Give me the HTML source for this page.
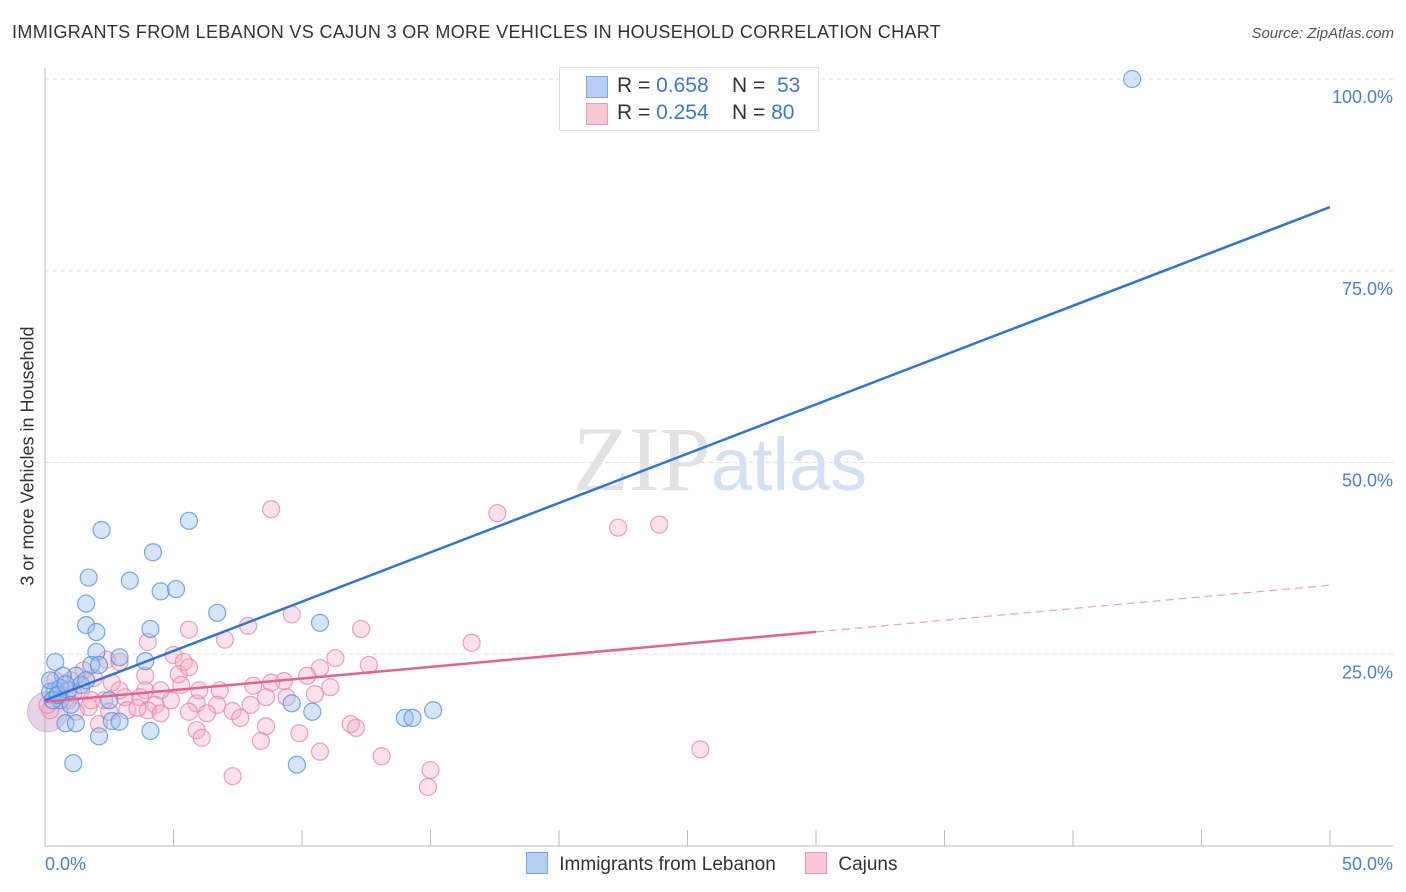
<!DOCTYPE html>
<html><head><meta charset="utf-8"><style>
body{margin:0;background:#fff;font-family:"Liberation Sans",sans-serif;}
#wrap{position:relative;width:1406px;height:892px;overflow:hidden;}
.t{position:absolute;white-space:nowrap;}
</style></head><body>
<div id="wrap">
<div class="t" style="left:12px;top:22px;font-size:18px;color:#333;letter-spacing:0.35px;">IMMIGRANTS FROM LEBANON VS CAJUN 3 OR MORE VEHICLES IN HOUSEHOLD CORRELATION CHART</div>
<div class="t" style="right:12px;top:25px;font-size:15px;color:#555;font-style:italic;">Source: ZipAtlas.com</div>
<div class="t" style="left:28px;top:456px;font-size:18px;color:#333;transform:translate(-50%,-50%) rotate(-90deg);">3 or more Vehicles in Household</div>
<svg id="plot" width="1406" height="892" style="position:absolute;left:0;top:0"></svg>
<div style="position:absolute;left:559px;top:67px;width:258px;height:62px;border:1px solid #ddd;background:#fff;font-size:21px;">
 <div style="position:absolute;left:26px;top:8px;width:20px;height:20px;background:#b5cff5;border:1px solid #7aa6e6;"></div>
 <div class="t" style="left:57px;top:6px;color:#333;">R = <span style="color:#3a78d8">0.658</span>&nbsp;&nbsp;&nbsp; N = &nbsp;<span style="color:#3a78d8">53</span></div>
 <div style="position:absolute;left:26px;top:35px;width:20px;height:20px;background:#f9c6d5;border:1px solid #ee9ab5;"></div>
 <div class="t" style="left:57px;top:33px;color:#333;">R = <span style="color:#3a78d8">0.254</span>&nbsp;&nbsp;&nbsp; N = <span style="color:#3a78d8">80</span></div>
</div>
<div style="position:absolute;left:526px;top:852px;font-size:19px;color:#333;">
 <span style="display:inline-block;width:20px;height:20px;background:#b5cff5;border:1px solid #7aa6e6;vertical-align:-4px;"></span>
 <span style="margin-left:6px">Immigrants from Lebanon</span>
 <span style="display:inline-block;width:20px;height:20px;background:#f9c6d5;border:1px solid #ee9ab5;vertical-align:-4px;margin-left:24px;"></span>
 <span style="margin-left:6px">Cajuns</span>
</div>
</div>
<script>
const blueX=[42.3,2.2,5.6,4.2,1.7,3.3,1.6,4.5,5.1,6.7,1.6,2.0,4.1,10.7,2.0,2.9,3.9,0.4,1.8,1.2,0.7,1.4,1.6,0.4,0.2,0.9,0.6,9.6,10.4,0.8,1.2,2.6,2.9,4.1,2.1,1.1,9.8,14.0,14.3,15.1,0.6,0.2,1.0,2.1,2.5,0.3,0.5,0.8];
const blueY=[100,41.2,42.4,38.3,35.0,34.6,31.6,33.2,33.5,30.4,28.8,27.9,28.3,29.1,25.3,24.6,24.1,24.0,23.6,22.2,22.2,21.0,21.6,20.3,20.1,20.3,19.0,18.6,17.5,16.0,16.0,16.3,16.2,15.0,14.3,10.8,10.6,16.7,16.7,17.7,20.6,21.6,18.4,23.6,19.0,19.0,19.7,21.1];
const pinkX=[8.8,17.6,22.3,23.9,9.6,12.3,16.6,5.6,7.0,4.0,7.9,5.0,5.4,5.2,3.9,5.6,11.3,12.6,10.7,10.2,9.3,8.8,8.1,11.1,6.8,9.4,10.5,3.9,3.7,3.1,2.6,2.4,2.9,1.9,1.5,8.6,8.0,6.7,5.9,4.3,3.2,4.0,7.3,6.3,5.6,4.5,3.6,1.7,1.2,7.6,8.6,11.9,12.1,5.9,6.1,9.9,8.4,2.1,10.7,13.1,7.3,15.0,14.9,25.5,0.9,1.4,0.6,0.2,0.4,1.0,2.3,2.5,4.9,4.5,5.3,1.1,1.8,0.1,2.9,6.0];
const pinkY=[43.9,43.4,41.5,41.9,30.2,28.3,26.5,28.2,26.9,26.6,28.7,24.9,24.0,22.4,22.2,23.3,24.5,23.6,23.2,22.2,21.5,21.3,20.9,20.7,20.3,19.4,19.8,20.3,19.4,19.4,21.3,24.3,24.0,21.9,22.9,19.4,18.4,18.4,18.6,18.4,17.7,17.7,17.6,17.3,17.5,17.3,18.0,18.1,17.5,16.7,15.6,15.9,15.4,15.1,14.1,14.7,13.7,15.9,12.3,11.7,9.1,9.9,7.7,12.6,19.0,20.3,19.7,17.7,21.6,21.6,19.0,17.5,19.0,20.3,21.0,19.9,19.0,18.4,20.3,20.3];
const blueTrend=[19.0,83.3];
const pinkTrend=[18.8,34.0];
const pinkSolidEnd=30;
const yTicks=[25,50,75,100];
const yTickLabels=["25.0%","50.0%","75.0%","100.0%"];
const xTicks=[0,5,10,15,20,25,30,35,40,45,50];
const NS="http://www.w3.org/2000/svg";
const svg=document.getElementById('plot');
const X=v=>45+v/50*1285;
const Y=v=>846-v*7.67;
function el(tag,attrs){const e=document.createElementNS(NS,tag);for(const k in attrs)e.setAttribute(k,attrs[k]);svg.appendChild(e);return e;}
yTicks.forEach((t,i)=>{
 const g=el('line',{x1:45,x2:1393,y1:Y(t),y2:Y(t),stroke:'#ddd','stroke-dasharray':'4,4'});
 
 
 const tx=el('text',{x:1393,y:Y(t)+24,'text-anchor':'end','font-size':18,fill:'#4a7fd4','font-family':'Liberation Sans'});
 tx.textContent=yTickLabels[i];
 
 
});
const ax=el('line',{x1:45,x2:45,y1:68,y2:846,stroke:'#bbb'});


const bx=el('line',{x1:45,x2:1393,y1:846,y2:846,stroke:'#bbb'});


xTicks.forEach(t=>{
 const l=el('line',{x1:X(t),x2:X(t),y1:830,y2:846,stroke:'#bbb'});
 
 
});
[[0,'start',45,'0.0%'],[50,'end',1393,'50.0%']].forEach(a=>{
 const tx=el('text',{x:a[2],y:870,'text-anchor':a[1],'font-size':18,fill:'#4a7fd4','font-family':'Liberation Sans'});
 tx.textContent=a[3];
 
 
});
const wm=el('text',{x:720,y:490,'text-anchor':'middle','font-size':92,'font-family':'Liberation Serif',fill:'#e2e2e2'});
wm.innerHTML='ZIP<tspan font-family="Liberation Sans" fill="#d3e1f5" font-size="74">atlas</tspan>';


const big=el('circle',{cx:X(0.1),cy:Y(17.5),r:20,fill:'rgba(200,160,200,0.45)',stroke:'rgba(200,140,180,0.6)'});


pinkX.forEach((x,i)=>{
 const c=el('circle',{cx:X(x),cy:Y(pinkY[i]),r:8.5,fill:'rgba(246,170,196,0.35)',stroke:'rgba(232,130,165,0.75)','stroke-width':1.2});
 
 
});
blueX.forEach((x,i)=>{
 const c=el('circle',{cx:X(x),cy:Y(blueY[i]),r:8.5,fill:'rgba(150,190,240,0.4)',stroke:'rgba(80,140,220,0.75)','stroke-width':1.2});
 
 
});
const pAt=x=>pinkTrend[0]+(pinkTrend[1]-pinkTrend[0])*x/50;
const pl=el('line',{x1:X(0),y1:Y(pinkTrend[0]),x2:X(pinkSolidEnd),y2:Y(pAt(pinkSolidEnd)),stroke:'#e8628f','stroke-width':2.5});


const pd=el('line',{x1:X(pinkSolidEnd),y1:Y(pAt(pinkSolidEnd)),x2:X(50),y2:Y(pinkTrend[1]),stroke:'#eea0b8','stroke-width':1.2,'stroke-dasharray':'8,5'});


const bl=el('line',{x1:X(0),y1:Y(blueTrend[0]),x2:X(50),y2:Y(blueTrend[1]),stroke:'#2f74d8','stroke-width':2.5});


</script>
</body></html>
